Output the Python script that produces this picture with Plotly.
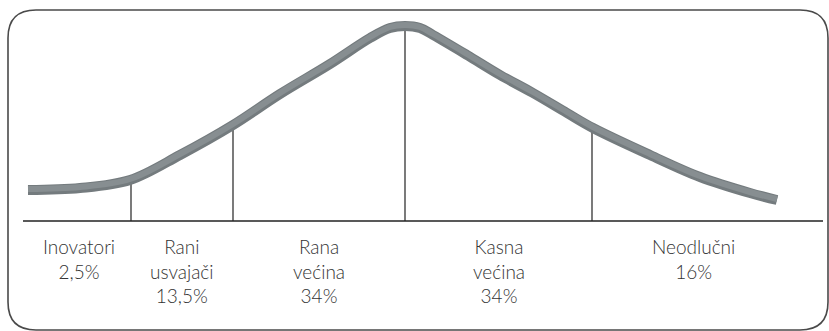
import numpy as np
import plotly.graph_objects as go

# Adoption curve (x along time axis, height above baseline)
curve_x = [28, 80, 130, 180, 233, 280, 330, 370, 390, 405, 420, 433, 467, 500, 533, 567, 593, 650, 700, 750, 777]
curve_h = [31, 33, 41, 66, 96, 127, 157, 183, 193, 195, 193, 186, 166, 146, 128, 108, 93, 66, 44, 28, 21]

# Category boundaries on the x axis
boundaries = [131, 233, 405, 592]
segment_edges = [26, 131, 233, 405, 592, 795]

categories = ["Inovatori", "Rani<br>usvajači", "Rana<br>većina", "Kasna<br>većina", "Neodlučni"]
shares = ["2,5%", "13,5%", "34%", "34%", "16%"]

W, H = 829, 331
BASE_PX = 221  # baseline pixel row

fig = go.Figure()

# curve body (dark edge) and lighter core
fig.add_trace(go.Scatter(x=curve_x, y=curve_h, mode="lines",
                         line=dict(color="#747b7e", width=10, shape="spline", smoothing=1.0),
                         hoverinfo="skip", showlegend=False))
fig.add_trace(go.Scatter(x=curve_x, y=[h + 1.0 for h in curve_h], mode="lines",
                         line=dict(color="#878e91", width=6, shape="spline", smoothing=1.0),
                         hoverinfo="skip", showlegend=False))

# vertical boundary lines up to the curve's lower edge
for bx in boundaries:
    top = float(np.interp(bx, curve_x, curve_h)) - 4.5
    fig.add_shape(type="line", x0=bx, x1=bx, y0=0, y1=top, xref="x", yref="y",
                  line=dict(color="#222222", width=1.2), layer="below")

# baseline
fig.add_shape(type="line", x0=23, x1=823, y0=0, y1=0, xref="x", yref="y",
              line=dict(color="#222222", width=1.5))

# labels
for i, (c, s) in enumerate(zip(categories, shares)):
    mx = (segment_edges[i] + segment_edges[i + 1]) / 2
    fig.add_annotation(x=mx, y=-12, xref="x", yref="y", text=f"{c}<br>{s}",
                       showarrow=False, xanchor="center", yanchor="top", align="center",
                       font=dict(family="Lato", size=19, color="#333333", weight=300))

# rounded border (paper coords)
x0, x1, y0, y1, r = 8, 828, 10, 330, 28
def px(x):
    return x / W
def py(y):
    return 1 - y / H
path = (f"M {px(x0 + r)},{py(y0)} L {px(x1 - r)},{py(y0)} "
        f"Q {px(x1)},{py(y0)} {px(x1)},{py(y0 + r)} "
        f"L {px(x1)},{py(y1 - r)} Q {px(x1)},{py(y1)} {px(x1 - r)},{py(y1)} "
        f"L {px(x0 + r)},{py(y1)} Q {px(x0)},{py(y1)} {px(x0)},{py(y1 - r)} "
        f"L {px(x0)},{py(y0 + r)} Q {px(x0)},{py(y0)} {px(x0 + r)},{py(y0)} Z")
fig.add_shape(type="path", path=path, xref="paper", yref="paper",
              line=dict(color="#4a4a4a", width=1.6))

fig.update_layout(
    width=W, height=H,
    margin=dict(l=0, r=0, t=0, b=0),
    paper_bgcolor="white", plot_bgcolor="white",
    xaxis=dict(range=[0, W], visible=False, fixedrange=True),
    yaxis=dict(range=[BASE_PX - H, BASE_PX], visible=False, fixedrange=True),
    showlegend=False,
)

fig.write_html("out.html", config={"displayModeBar": False},
               post_script="document.body.style.margin='0';document.body.style.overflow='hidden';")
